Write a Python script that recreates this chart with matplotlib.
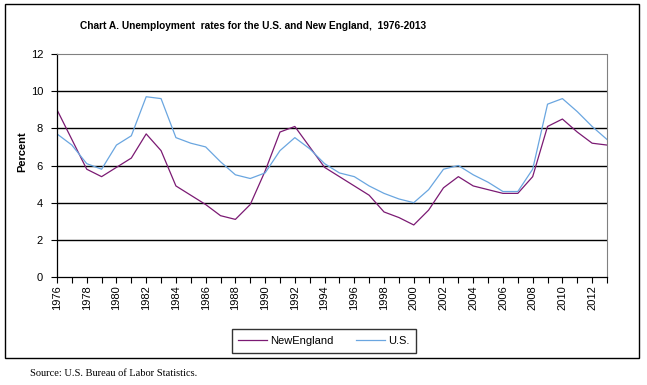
import numpy as np
import matplotlib.pyplot as plt
from matplotlib.patches import Rectangle
from matplotlib.lines import Line2D

# annual unemployment rates
years = list(range(1976, 2014))
new_england = [9.0, 7.4, 5.8, 5.4, 5.9, 6.4, 7.7, 6.8, 4.9, 4.4,
               3.9, 3.3, 3.1, 3.9, 5.7, 7.8, 8.1, 7.0, 5.9, 5.4,
               4.9, 4.4, 3.5, 3.2, 2.8, 3.6, 4.8, 5.4, 4.9, 4.7,
               4.5, 4.5, 5.4, 8.1, 8.5, 7.8, 7.2, 7.1]
us = [7.7, 7.1, 6.1, 5.8, 7.1, 7.6, 9.7, 9.6, 7.5, 7.2,
      7.0, 6.2, 5.5, 5.3, 5.6, 6.8, 7.5, 6.9, 6.1, 5.6,
      5.4, 4.9, 4.5, 4.2, 4.0, 4.7, 5.8, 6.0, 5.5, 5.1,
      4.6, 4.6, 5.8, 9.3, 9.6, 8.9, 8.1, 7.4]
y_ticks = [0, 2, 4, 6, 8, 10, 12]

ne_color = '#7b1a73'
us_color = '#6aa6e0'

plt.rcParams['font.family'] = ['Liberation Sans', 'DejaVu Sans']

fig = plt.figure(figsize=(6.47, 3.85), dpi=100)
W, H = 647.0, 385.0

# outer frame around the chart
fig.patches.append(Rectangle((5 / W, 1 - 358 / H), (639 - 5) / W, (358 - 4) / H,
                             transform=fig.transFigure, fill=False,
                             edgecolor='black', linewidth=1.0))

ax = fig.add_axes([57 / W, 1 - 277 / H, (607 - 57) / W, (277 - 54) / H])

ax.plot(years, new_england, color=ne_color, linewidth=0.9)
ax.plot(years, us, color=us_color, linewidth=0.9)

ax.set_xlim(1976, 2013)
ax.set_ylim(0, 12)
ax.set_yticks(y_ticks)
ax.set_yticklabels([str(v) for v in y_ticks], fontsize=8)
for v in y_ticks[1:-1]:
    ax.axhline(v, color='black', linewidth=1.0, zorder=0)

ax.set_xticks(years[::2])
ax.set_xticklabels([str(y) for y in years[::2]], rotation=90, fontsize=8)
ax.set_xticks(years, minor=True)
ax.tick_params(axis='x', which='both', direction='out', length=4, width=0.8, pad=2)
ax.tick_params(axis='y', length=4, width=0.8, pad=6)

for s in ['top', 'right']:
    ax.spines[s].set_color('#808080')
    ax.spines[s].set_linestyle((0, (2, 1)))
    ax.spines[s].set_linewidth(0.8)
ax.spines['left'].set_linewidth(0.9)
ax.spines['bottom'].set_linewidth(0.9)

fig.text(22 / W, 1 - 152 / H, 'Percent', rotation=90, fontsize=8,
         fontweight='bold', ha='center', va='center')
fig.text(80 / W, 1 - 26 / H,
         'Chart A. Unemployment  rates for the U.S. and New England,  1976-2013',
         fontsize=7.3, fontweight='bold', ha='left', va='center')

handles = [Line2D([], [], color=ne_color, linewidth=0.9),
           Line2D([], [], color=us_color, linewidth=0.9)]
leg = fig.legend(handles, ['NewEngland', 'U.S.'], loc='center',
                 bbox_to_anchor=(324 / W, 1 - 341 / H), ncol=2, fontsize=8,
                 frameon=True, fancybox=False, edgecolor='black',
                 handlelength=2.6, handletextpad=0.3, columnspacing=2.0,
                 borderpad=0.6)
leg.get_frame().set_linewidth(1.0)

fig.text(30 / W, 1 - 374 / H, 'Source: U.S. Bureau of Labor Statistics.',
         fontsize=7.5, family='Liberation Serif', ha='left', va='center')

fig.savefig('out.png', dpi=100)
